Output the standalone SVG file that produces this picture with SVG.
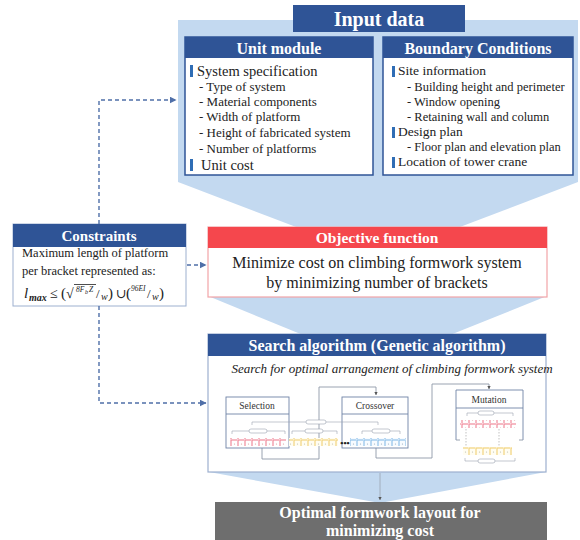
<svg xmlns="http://www.w3.org/2000/svg" width="580" height="540" viewBox="0 0 580 540" font-family="'Liberation Serif', 'DejaVu Serif', serif">
<defs>
<style>
text{font-family:"Liberation Serif","DejaVu Serif",serif;fill:#222}
.hd{fill:#fff;font-weight:bold;text-anchor:middle}
.it{font-size:14.5px}
.sub{font-size:13px}
.bi{font-size:13.5px}
.bar{fill:#2f6db5}
.hdr{fill:#2f5496}
.box{fill:#fff;stroke:#2f5496;stroke-width:1.5}
.dash{fill:none;stroke:#4f6fa8;stroke-width:1.4;stroke-dasharray:4 3}
.thin{fill:none;stroke:#8e98a8;stroke-width:0.9}
.mini{fill:#fff;stroke:#6f83a6;stroke-width:0.9}
.mt{font-size:9.5px;text-anchor:middle;fill:#333}
.brk{fill:none;stroke:#9aa3b0;stroke-width:0.6}
.lbl{fill:#fff;stroke:#9aa3b0;stroke-width:0.6}
</style>
<marker id="ah" viewBox="0 0 6 6" refX="5.5" refY="3" markerWidth="5" markerHeight="5" orient="auto">
<path d="M0,0 L6,3 L0,6 Z" fill="#4f6fa8"/>
</marker>
<marker id="ahg" viewBox="0 0 6 6" refX="5.5" refY="3" markerWidth="4" markerHeight="4" orient="auto">
<path d="M0,0 L6,3 L0,6 Z" fill="#555"/>
</marker>
<pattern id="pk" patternUnits="userSpaceOnUse" x="0" y="0" width="7" height="8">
<rect x="0.5" y="0.5" width="6" height="7" fill="#fff" stroke="#f08a9a" stroke-width="0.6"/><circle cx="3.5" cy="4" r="0.6" fill="#d99"/>
</pattern>
<pattern id="yl" patternUnits="userSpaceOnUse" x="0" y="0" width="7" height="8">
<rect x="0.5" y="0.5" width="6" height="7" fill="#fffdf2" stroke="#f2d27a" stroke-width="0.6"/><circle cx="3.5" cy="4" r="0.6" fill="#bba"/>
</pattern>
<pattern id="bl" patternUnits="userSpaceOnUse" x="0" y="0" width="7" height="8">
<rect x="0.5" y="0.5" width="6" height="7" fill="#f7fbff" stroke="#8cc0ea" stroke-width="0.6"/><circle cx="3.5" cy="4" r="0.6" fill="#9ab"/>
</pattern>
</defs>
<rect width="580" height="540" fill="#fff"/>

<g id="flow-shapes" fill="#c3d9f0">
<polygon points="178,20 578,20 578,182 452,230 304,230 178,182"/>
<polygon points="208,296 547,296 450,335 303,335"/>
<polygon points="209,472 546,472 380,503"/>
</g>

<g id="input-data">
<rect x="293" y="5" width="172" height="27" class="hdr"/>
<text x="379" y="26" class="hd" font-size="20">Input data</text>
</g>

<g id="unit-module">
<rect x="185" y="37" width="188" height="138" class="box"/>
<rect x="185" y="37" width="188" height="21" class="hdr"/>
<text x="279" y="54" class="hd" font-size="16">Unit module</text>
<rect x="190" y="65" width="3" height="12" class="bar"/>
<text x="197" y="76" class="it">System specification</text>
<text x="199" y="91" class="sub">- Type of system</text>
<text x="199" y="106" class="sub">- Material components</text>
<text x="199" y="121" class="sub">- Width of platform</text>
<text x="199" y="137" class="sub">- Height of fabricated system</text>
<text x="199" y="153" class="sub">- Number of platforms</text>
<rect x="190" y="159" width="3" height="12" class="bar"/>
<text x="201" y="170" class="it">Unit cost</text>
</g>

<g id="boundary-conditions">
<rect x="383" y="37" width="190" height="138" class="box"/>
<rect x="383" y="37" width="190" height="21" class="hdr"/>
<text x="478" y="54" class="hd" font-size="16">Boundary Conditions</text>
<rect x="392" y="66" width="3" height="11" class="bar"/>
<text x="398" y="75" class="bi">Site information</text>
<text x="407" y="91" font-size="12.5">- Building height and perimeter</text>
<text x="407" y="106" font-size="12.5">- Window opening</text>
<text x="407" y="121" font-size="12.5">- Retaining wall and column</text>
<rect x="392" y="127" width="3" height="11" class="bar"/>
<text x="398" y="136" class="bi">Design plan</text>
<text x="407" y="151" font-size="12.5">- Floor plan and elevation plan</text>
<rect x="392" y="157" width="3" height="11" class="bar"/>
<text x="398" y="166" class="bi">Location of tower crane</text>
</g>

<g id="constraints">
<rect x="13" y="224" width="173" height="82" fill="#fff" stroke="#9db0cf" stroke-width="1"/>
<rect x="13" y="224" width="173" height="23" class="hdr"/>
<text x="99" y="241" class="hd" font-size="15">Constraints</text>
<text x="22" y="257" font-size="12.5">Maximum length of platform</text>
<text x="22" y="275" font-size="12.5">per bracket represented as:</text>
<text font-size="15"><tspan x="24" y="298" font-style="italic">l</tspan><tspan x="29" y="301" font-size="10" font-style="italic" font-weight="bold">max</tspan><tspan x="50" y="298" font-size="14">≤</tspan><tspan x="61" y="298">(</tspan><tspan x="66" y="298" font-size="14">√</tspan><tspan x="76" y="292" font-size="7.5" font-style="italic">8F</tspan><tspan x="85" y="294" font-size="6" font-style="italic">b</tspan><tspan x="89" y="292" font-size="7.5" font-style="italic">Z</tspan><tspan x="96" y="298" font-size="13">/</tspan><tspan x="101" y="300" font-size="10" font-style="italic">w</tspan><tspan x="108" y="298">)</tspan><tspan x="116" y="298" font-size="13">∪</tspan><tspan x="126" y="298">(</tspan><tspan x="131" y="291" font-size="7.5" font-style="italic">96EI</tspan><tspan x="147" y="298" font-size="13">/</tspan><tspan x="152" y="300" font-size="10" font-style="italic">w</tspan><tspan x="159" y="298">)</tspan></text>
<line x1="74" y1="284.5" x2="96" y2="284.5" stroke="#222" stroke-width="0.8"/>
</g>

<g id="objective-function">
<rect x="208" y="227" width="339" height="70" fill="#fff" stroke="#f2a4a7" stroke-width="1.2"/>
<rect x="208" y="227" width="339" height="21" fill="#f5474d"/>
<text x="377" y="243" class="hd" font-size="15.5">Objective function</text>
<text x="377" y="268" font-size="16" text-anchor="middle">Minimize cost on climbing formwork system</text>
<text x="377" y="288" font-size="16" text-anchor="middle">by minimizing number of brackets</text>
</g>

<g id="search-algorithm">
<rect x="208" y="334" width="338" height="138" fill="#fff" stroke="#9db0cf" stroke-width="1.2"/>
<rect x="208" y="334" width="338" height="22" class="hdr"/>
<text x="377" y="351" class="hd" font-size="16">Search algorithm (Genetic algorithm)</text>
<text x="392" y="373" font-size="13" font-style="italic" text-anchor="middle">Search for optimal arrangement of climbing formwork system</text>
<path class="thin" d="M262,448 V459 H319 V387 H376 V395" marker-end="url(#ahg)"/>
<path class="thin" d="M376,448 V458 H432 V384 H489 V389" marker-end="url(#ahg)"/>
<rect x="226" y="397" width="63" height="51" class="mini"/>
<line x1="226" y1="414" x2="289" y2="414" stroke="#6f83a6" stroke-width="0.9"/>
<text x="257" y="409" class="mt">Selection</text>
<rect x="342" y="397" width="66" height="51" class="mini"/>
<line x1="342" y1="414" x2="408" y2="414" stroke="#6f83a6" stroke-width="0.9"/>
<text x="375" y="409" class="mt">Crossover</text>
<rect x="230" y="438" width="56" height="8" fill="url(#pk)"/>
<rect x="289" y="438" width="49" height="8" fill="url(#yl)"/>
<text x="345" y="446" font-size="9" text-anchor="middle" font-weight="bold" fill="#333">•••</text>
<rect x="350" y="438" width="56" height="8" fill="url(#bl)"/>
<path class="brk" d="M252,425 V422 H378 V425"/>
<rect x="306" y="420" width="20" height="4" rx="2" class="lbl"/>
<path class="brk" d="M232,434 V431 H285 V434"/>
<rect x="249" y="429" width="18" height="4" rx="2" class="lbl"/>
<path class="brk" d="M292,434 V431 H337 V434"/>
<rect x="305" y="429" width="18" height="4" rx="2" class="lbl"/>
<path class="brk" d="M362,434 V431 H400 V434"/>
<rect x="372" y="429" width="18" height="4" rx="2" class="lbl"/>
<path class="mini" d="M456,440 V390 H523 V440"/>
<path class="thin" d="M456,440 H460 M523,440 H519" stroke="#6f83a6"/>
<line x1="456" y1="408" x2="523" y2="408" stroke="#6f83a6" stroke-width="0.9"/>
<text x="489" y="403" class="mt">Mutation</text>
<path class="brk" d="M467,416 V413 H513 V416"/>
<rect x="478" y="411" width="16" height="4" rx="2" class="lbl"/>
<rect x="460" y="420" width="56" height="8" fill="url(#pk)"/>
<line x1="466" y1="429" x2="466" y2="446" stroke="#999" stroke-width="0.6" stroke-dasharray="1.5 1.5"/>
<line x1="499" y1="429" x2="499" y2="446" stroke="#999" stroke-width="0.6" stroke-dasharray="1.5 1.5"/>
<rect x="463" y="447" width="49" height="8" fill="url(#yl)"/>
<path class="brk" d="M465,458 V461 H515 V458"/>
<rect x="478" y="459" width="17" height="4" rx="2" class="lbl"/>
</g>

<g id="optimal-layout">
<rect x="215" y="502" width="332" height="38" fill="#6e6e6e"/>
<text x="380" y="518" class="hd" font-size="16">Optimal formwork layout for</text>
<text x="380" y="536" class="hd" font-size="16">minimizing cost</text>
</g>

<g id="connectors">
<path class="dash" d="M99,224 V100 H176" marker-end="url(#ah)"/>
<path class="dash" d="M187,265 H206" marker-end="url(#ah)"/>
<path class="dash" d="M99,306 V403 H206" marker-end="url(#ah)"/>
<line x1="380" y1="473" x2="380" y2="500" stroke="#9aa3b0" stroke-width="0.8" marker-end="url(#ahg)"/>
</g>
</svg>
